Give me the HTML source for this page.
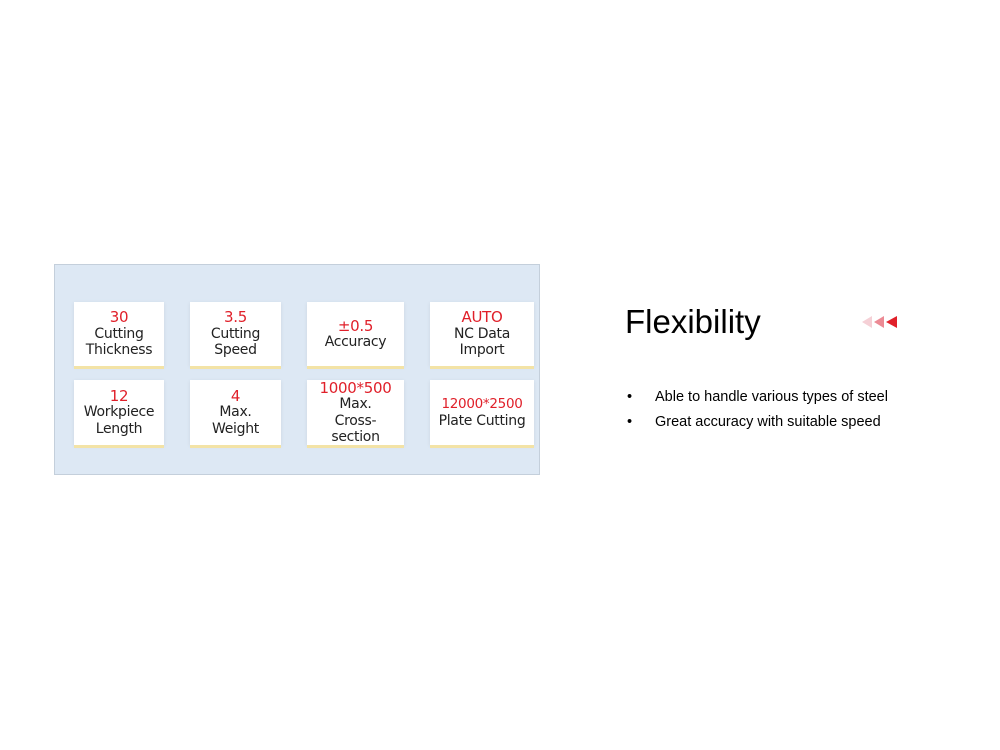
<!DOCTYPE html>
<html><head><meta charset="utf-8"><style>
body{margin:0;width:1000px;height:750px;background:#fff;position:relative;overflow:hidden;font-family:"Liberation Sans",sans-serif}
.panel{position:absolute;left:54px;top:264px;width:486px;height:211px;background:#dde8f4;border:1px solid #c4cfdb;box-sizing:border-box}
.box{position:absolute;background:#fff;box-shadow:0 3px 0 #f3e3a6,0 1px 4px rgba(0,0,0,0.08);display:flex;flex-direction:column;justify-content:center;align-items:center;text-align:center;font-size:14px;line-height:16.5px;color:#222;font-family:"DejaVu Sans","Liberation Sans",sans-serif;letter-spacing:-0.3px}
.r{color:#e0202a;font-size:15px}
h1{position:absolute;left:625px;top:303px;margin:0;font-weight:normal;font-size:33px;color:#000}
.b{position:absolute;left:627px;font-size:14.5px;color:#000}
.b span{position:absolute;left:28px;white-space:nowrap}
</style></head><body>
<div class="panel"></div>
<div class="box" style="left:74px;top:302px;width:90px;height:64px"><span class="r">30</span>Cutting<br>Thickness</div>
<div class="box" style="left:190px;top:302px;width:91px;height:64px"><span class="r">3.5</span>Cutting<br>Speed</div>
<div class="box" style="left:307px;top:302px;width:97px;height:64px"><span class="r">±0.5</span>Accuracy</div>
<div class="box" style="left:430px;top:302px;width:104px;height:64px"><span class="r">AUTO</span>NC Data<br>Import</div>
<div class="box" style="left:74px;top:380px;width:90px;height:65px"><span class="r">12</span>Workpiece<br>Length</div>
<div class="box" style="left:190px;top:380px;width:91px;height:65px"><span class="r">4</span>Max.<br>Weight</div>
<div class="box" style="left:307px;top:380px;width:97px;height:65px"><span class="r">1000*500</span>Max.<br>Cross-<br>section</div>
<div class="box" style="left:430px;top:380px;width:104px;height:65px"><span class="r" style="font-size:13.5px">12000*2500</span>Plate Cutting</div>
<h1>Flexibility</h1>
<svg style="position:absolute;left:858px;top:314px" width="42" height="16">
<polygon points="4,8 14,2 14,14" fill="#f5d0d6"/>
<polygon points="16,8 26,2 26,14" fill="#ec8a94"/>
<polygon points="28,8 39,2 39,14" fill="#e0202a"/>
</svg>
<div class="b" style="top:389px">•<span>Able to handle various types of steel</span></div>
<div class="b" style="top:414px">•<span>Great accuracy with suitable speed</span></div>
</body></html>
